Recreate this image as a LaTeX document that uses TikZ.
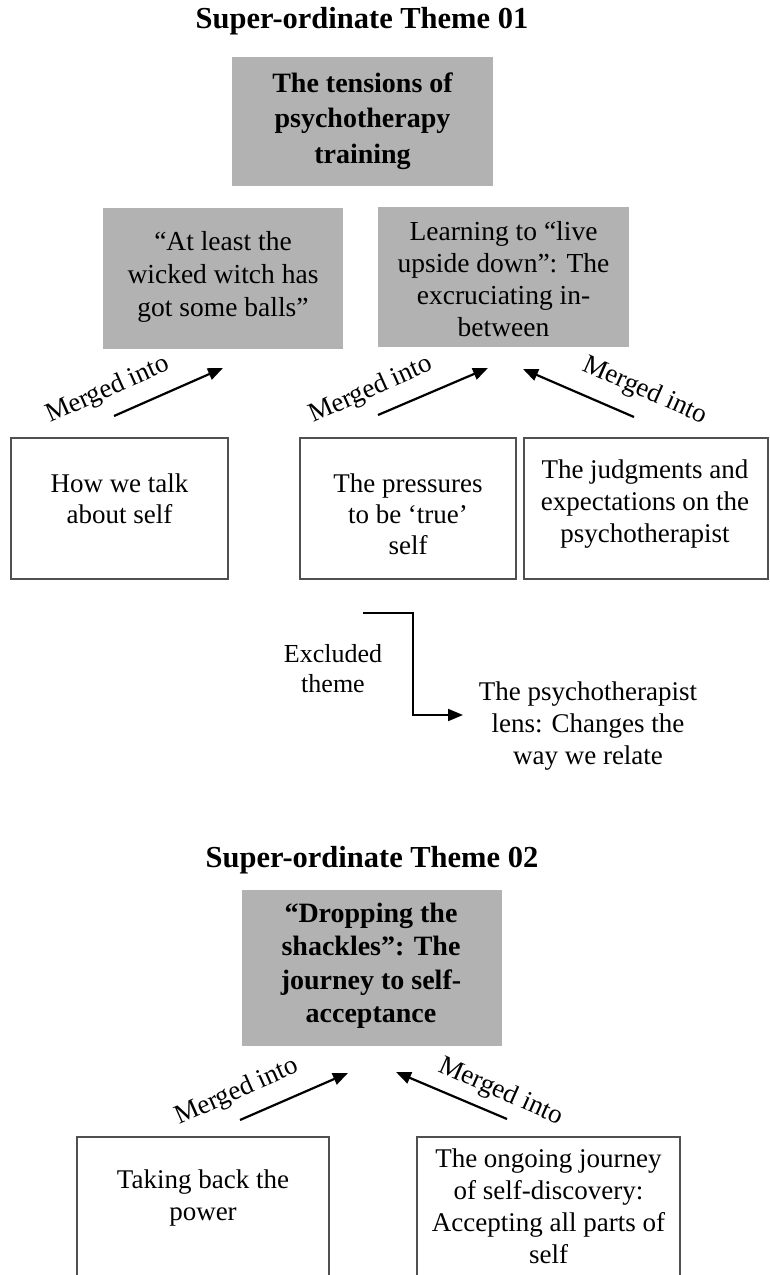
\documentclass[tikz,border=0pt]{standalone}
\usepackage{fontspec}
\setmainfont{Liberation Serif}
\usetikzlibrary{arrows.meta}
\definecolor{boxgray}{RGB}{178,178,178}
\definecolor{edgegray}{RGB}{80,80,80}
\tikzset{
  graybox/.style={fill=boxgray, draw=none, inner sep=0pt},
  whitebox/.style={draw=edgegray, line width=1.5pt, fill=white, inner sep=0pt},
  txt/.style={align=center, inner sep=0pt, anchor=north},
  headtxt/.style={font=\bfseries\fontsize{30.5}{36}\selectfont, inner sep=0pt, anchor=base},
  mergearrow/.style={line width=2.2pt, -{Triangle[length=15pt,width=12pt]}},
  mergelabel/.style={font=\fontsize{27}{30}\selectfont, inner sep=0pt},
}
\begin{document}
\begin{tikzpicture}[x=1pt,y=-1pt]
\clip (0,0) rectangle (770,1275);
\fill[white] (0,0) rectangle (770,1275);

% ---------- Theme 01 ----------
\node[headtxt] (head1) at (362,28) {Super-ordinate Theme 01};
\node[graybox, minimum width=261pt, minimum height=129pt] (sup1) at (362.5,121.5) {};
\node[txt, font=\bfseries\fontsize{28}{35.5}\selectfont] (sup1t) at (362.5,67.2)
  {\strut The tensions of\\psychotherapy\\training};

\node[graybox, minimum width=240pt, minimum height=141pt] (witch) at (223,278.5) {};
\node[txt, font=\fontsize{27.5}{33}\selectfont] (witcht) at (223,226.9)
  {\strut “At least the\\wicked witch has\\got some balls”};

\node[graybox, minimum width=251pt, minimum height=140pt] (upside) at (503.5,277) {};
\node[txt, font=\fontsize{27.5}{32}\selectfont] (upsidet) at (503.5,217.6)
  {\strut Learning to “live\\upside down”: The\\excruciating in-\\between};

\node[whitebox, minimum width=217pt, minimum height=141pt] (talk) at (119.5,508.5) {};
\node[txt, font=\fontsize{27}{31.5}\selectfont] (talkt) at (119.5,470)
  {\strut How we talk\\about self};

\node[whitebox, minimum width=216pt, minimum height=141pt] (press) at (408,508.5) {};
\node[txt, font=\fontsize{27}{31}\selectfont] (presst) at (408,470.3)
  {\strut The pressures\\to be ‘true’\\self};

\node[whitebox, minimum width=244pt, minimum height=141pt] (judge) at (646,508.5) {};
\node[txt, font=\fontsize{27}{32}\selectfont] (judget) at (645,455.6)
  {\strut The judgments and\\expectations on the\\psychotherapist};

% merged arrows (top)
\coordinate (a1s) at (114,416); \coordinate (a1e) at (223,368);
\coordinate (a2s) at (378,415); \coordinate (a2e) at (488,368);
\coordinate (a3s) at (634,417); \coordinate (a3e) at (523,369);
\draw[mergearrow] (a1s) -- (a1e);
\draw[mergearrow] (a2s) -- (a2e);
\draw[mergearrow] (a3s) -- (a3e);
\node[mergelabel, rotate=24] (m1) at (108,390) {Merged into};
\node[mergelabel, rotate=24] (m2) at (371,390) {Merged into};
\node[mergelabel, rotate=-24] (m3) at (645,391) {Merged into};

% excluded theme
\coordinate (exs) at (363,613);
\coordinate (exe) at (463,715);
\node[txt, font=\fontsize{26}{30}\selectfont] (excl) at (333,641) {\strut Excluded\\theme};
\node[txt, font=\fontsize{27}{32}\selectfont] (lens) at (588,677.6)
  {\strut The psychotherapist\\lens: Changes the\\way we relate};
\draw[line width=2pt, -{Triangle[length=15pt,width=12pt]}] (exs) -- ++(50,0) |- (exe);

% ---------- Theme 02 ----------
\node[headtxt] (head2) at (372,867) {Super-ordinate Theme 02};
\node[graybox, minimum width=260pt, minimum height=156pt] (sup2) at (372,968) {};
\node[txt, font=\bfseries\fontsize{28}{33.5}\selectfont] (sup2t) at (371,898.5)
  {\strut “Dropping the\\shackles”: The\\journey to self-\\acceptance};

\coordinate (b1s) at (240,1120); \coordinate (b1e) at (348,1073);
\coordinate (b2s) at (507,1119); \coordinate (b2e) at (396,1072);
\draw[mergearrow] (b1s) -- (b1e);
\draw[mergearrow] (b2s) -- (b2e);
\node[mergelabel, rotate=24] (m4) at (237,1092) {Merged into};
\node[mergelabel, rotate=-24] (m5) at (501,1092) {Merged into};

\node[whitebox, minimum width=252pt, minimum height=153pt] (power) at (203,1213.5) {};
\node[txt, font=\fontsize{27}{32}\selectfont] (powert) at (203,1165.6)
  {\strut Taking back the\\power};

\node[whitebox, minimum width=263pt, minimum height=153pt] (journey) at (548.5,1213.5) {};
\node[txt, font=\fontsize{27}{32}\selectfont] (journeyt) at (548.5,1144.6)
  {\strut The ongoing journey\\of self-discovery:\\Accepting all parts of\\self};
\end{tikzpicture}
\end{document}
